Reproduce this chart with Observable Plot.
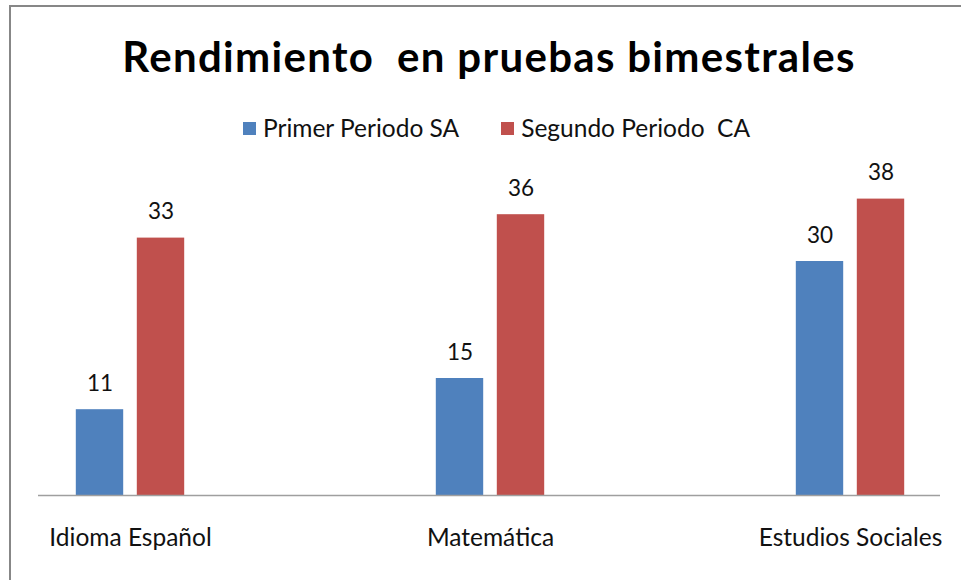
<!DOCTYPE html>
<html>
<head>
<meta charset="utf-8">
<script src="https://cdn.jsdelivr.net/npm/d3@7"></script>
<script src="https://cdn.jsdelivr.net/npm/@observablehq/plot@0.6"></script>
<style>
  body { margin: 0; background: #fff; }
  #wrap { position: relative; width: 961px; height: 580px; overflow: hidden; font-family: Lato, "Open Sans", sans-serif; background: #fff; }
  #border { position: absolute; left: 9px; top: 5px; width: 1100px; height: 1100px; border-left: 2px solid #878787; border-top: 2px solid #878787; }
  #title { position: absolute; left: 38px; width: 902px; top: 35px; text-align: center; font-weight: bold; font-size: 42px; letter-spacing: 1.3px; line-height: 1; color: #000; white-space: pre; }
  #legend { position: absolute; left: 243px; top: 115.5px; display: flex; font-size: 24.5px; line-height: 1; color: #111; white-space: pre; }
  .item { display: flex; align-items: center; margin-right: 42px; }
  .sw { width: 13px; height: 13px; margin-right: 7px; margin-top: 1px; }
  #chart { position: absolute; left: 0; top: 150px; }
</style>
</head>
<body>
<div id="wrap">
  <div id="border"></div>
  <div id="title"></div>
  <div id="legend"></div>
  <div id="chart"></div>
</div>
<script>
const title = "Rendimiento  en pruebas bimestrales";
const categories = ["Idioma Español", "Matemática", "Estudios Sociales"];
const seriesNames = ["Primer Periodo SA", "Segundo Periodo  CA"];
const seriesColors = ["#4F81BD", "#C0504D"];
const primerValues = [11, 15, 30];
const segundoValues = [33, 36, 38];

const rows = [];
categories.forEach((c, i) => {
  rows.push({cat: c, series: seriesNames[0], value: primerValues[i]});
  rows.push({cat: c, series: seriesNames[1], value: segundoValues[i]});
});

document.getElementById("title").textContent = title;
const legend = document.getElementById("legend");
seriesNames.forEach((s, i) => {
  const item = document.createElement("div");
  item.className = "item";
  const sw = document.createElement("div");
  sw.className = "sw";
  sw.style.background = seriesColors[i];
  const lab = document.createElement("span");
  lab.textContent = s;
  item.appendChild(sw);
  item.appendChild(lab);
  legend.appendChild(item);
});

const barWidth = 48, gap = 13;
const step = barWidth + gap;
const offsets = [-step / 2, step / 2];

const marks = [];
seriesNames.forEach((s, i) => {
  const sub = rows.filter(d => d.series === s);
  marks.push(Plot.barY(sub, {
    x: "cat", y: "value", fill: "series",
    dx: offsets[i],
    insetLeft: 156.3, insetRight: 156.3
  }));
  marks.push(Plot.text(sub, {
    x: "cat", y: "value", text: d => String(d.value),
    dx: offsets[i], dy: -19, lineAnchor: "bottom",
    fontSize: 22.5, fill: "#111"
  }));
});
marks.push(Plot.ruleY([0], {stroke: "#9f9f9f", strokeWidth: 1.5}));

const plot = Plot.plot({
  width: 961,
  height: 430,
  marginLeft: 38,
  marginRight: 21,
  marginTop: 33,
  marginBottom: 85,
  style: {fontFamily: "Lato, 'Open Sans', sans-serif", fontSize: "24.5px", color: "#111", background: "transparent", overflow: "visible"},
  x: {domain: categories, range: [-51.25, 1030.75], padding: 0, tickSize: 0, tickPadding: 33, label: null},
  y: {domain: [0, 40], axis: null},
  color: {domain: seriesNames, range: seriesColors},
  marks
});
document.getElementById("chart").appendChild(plot);
</script>
</body>
</html>
